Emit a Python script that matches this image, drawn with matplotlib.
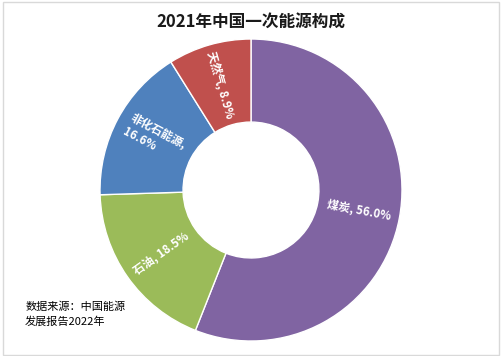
import matplotlib
matplotlib.use("Agg")
import matplotlib.pyplot as plt
import numpy as np
from matplotlib.patches import Rectangle

plt.rcParams['font.family'] = ['Noto Sans CJK SC', 'DejaVu Sans']

categories = ['煤炭', '石油', '非化石能源', '天然气']
values = [56.0, 18.5, 16.6, 8.9]
colors = ['#8064A2', '#9BBB59', '#4F81BD', '#C0504D']
title = '2021年中国一次能源构成'
source = '数据来源：中国能源\n发展报告2022年'

fig = plt.figure(figsize=(5.02, 3.56), dpi=100)
fig.patches.append(Rectangle((0.006, 0.004), 0.988, 0.99, transform=fig.transFigure,
                             fill=False, edgecolor='#d9d9d9', linewidth=1))

ax = fig.add_axes([0.1992, 0.0421, 0.6016, 0.8483])
inner = 0.45
wedges, _ = ax.pie(values, colors=colors, startangle=90, counterclock=False,
                   radius=1.0, wedgeprops=dict(width=1 - inner, edgecolor='white', linewidth=1))
ax.set_xlim(-1, 1)
ax.set_ylim(-1, 1)
ax.set_aspect('equal')
ax.axis('off')

r_lab = (1 + inner) / 2
for w, name, v in zip(wedges, categories, values):
    ang = (w.theta1 + w.theta2) / 2
    x = r_lab * np.cos(np.deg2rad(ang))
    y = r_lab * np.sin(np.deg2rad(ang))
    rot = ang
    if rot > 90:
        rot -= 180
    elif rot < -90:
        rot += 180
    if name == '非化石能源':
        txt = f'{name},\n{v:.1f}%'
    else:
        txt = f'{name}, {v:.1f}%'
    ax.text(x, y, txt, rotation=rot, rotation_mode='anchor', ha='center', va='center',
            color='white', fontsize=8.3, fontweight='bold', linespacing=1.3, multialignment='left')

fig.text(0.5, 0.935, title, ha='center', va='center', fontsize=12, fontweight='bold', color='#1a1a1a')
fig.text(0.05, 0.117, source, ha='left', va='center', fontsize=8, color='black', linespacing=1.45)

fig.savefig('out.png', dpi=100)
